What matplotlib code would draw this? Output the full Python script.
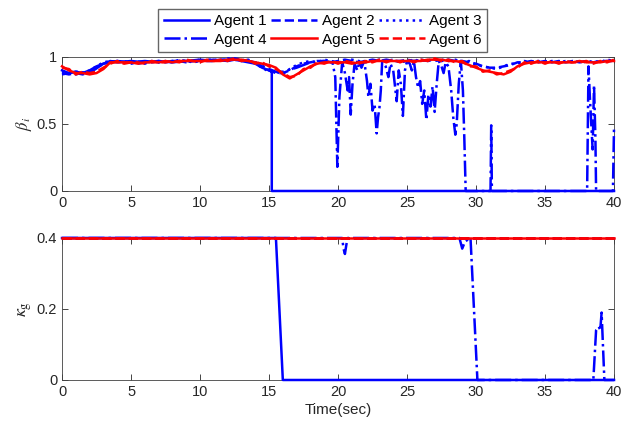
import matplotlib
matplotlib.use('Agg')
import matplotlib.pyplot as plt

plt.rcParams['font.family'] = ['Liberation Sans', 'DejaVu Sans']
plt.rcParams['mathtext.fontset'] = 'stix'

# common time grid for the smooth-ish traces (0:0.5:40)
t_half = [i * 0.5 for i in range(81)]

beta2 = [0.88, 0.87, 0.88, 0.87, 0.89, 0.92, 0.95, 0.96, 0.97, 0.96,
         0.96, 0.95, 0.96, 0.96, 0.97, 0.96, 0.97, 0.97, 0.96, 0.97,
         0.98, 0.97, 0.97, 0.98, 0.98, 0.99, 0.98, 0.97, 0.96, 0.93,
         0.90, 0.88, 0.88, 0.90, 0.93, 0.95, 0.96, 0.97, 0.97, 0.96,
         0.97, 0.98, 0.97, 0.96, 0.97, 0.98, 0.97, 0.98, 0.97, 0.97,
         0.98, 0.97, 0.98, 0.97, 0.98, 0.97, 0.98, 0.97, 0.97, 0.96,
         0.95, 0.93, 0.92, 0.92, 0.93, 0.94, 0.96, 0.96, 0.97, 0.96,
         0.97, 0.96, 0.97, 0.96, 0.97, 0.96, 0.97, 0.96, 0.97, 0.97,
         0.97]
beta3 = [0.89, 0.88, 0.87, 0.88, 0.90, 0.93, 0.96, 0.97, 0.96, 0.97,
         0.95, 0.96, 0.95, 0.97, 0.96, 0.97, 0.96, 0.98, 0.97, 0.96,
         0.97, 0.98, 0.98, 0.97, 0.99, 0.98, 0.97, 0.98, 0.95, 0.92,
         0.89, 0.89, 0.87, 0.91, 0.94, 0.96, 0.97, 0.96, 0.98, 0.97,
         0.96, 0.97, 0.98, 0.97, 0.96, 0.97, 0.98, 0.97, 0.98, 0.96,
         0.97, 0.98, 0.97, 0.98, 0.97, 0.98, 0.97, 0.98, 0.96, 0.97,
         0.94, 0.93, 0.92, 0.91, 0.93, 0.95, 0.95, 0.97, 0.96, 0.97,
         0.96, 0.97, 0.96, 0.97, 0.96, 0.97, 0.96, 0.97, 0.96, 0.98,
         0.97]
beta5 = [0.93, 0.90, 0.88, 0.88, 0.87, 0.88, 0.91, 0.96, 0.96, 0.96,
         0.96, 0.95, 0.96, 0.96, 0.96, 0.97, 0.96, 0.97, 0.97, 0.97,
         0.97, 0.97, 0.97, 0.97, 0.98, 0.98, 0.98, 0.97, 0.96, 0.95,
         0.94, 0.92, 0.87, 0.84, 0.87, 0.90, 0.93, 0.95, 0.96, 0.96,
         0.96, 0.96, 0.95, 0.96, 0.96, 0.97, 0.97, 0.97, 0.97, 0.97,
         0.97, 0.97, 0.97, 0.98, 0.98, 0.98, 0.97, 0.97, 0.96, 0.94,
         0.92, 0.90, 0.89, 0.88, 0.87, 0.89, 0.93, 0.95, 0.96, 0.96,
         0.96, 0.96, 0.96, 0.96, 0.96, 0.97, 0.96, 0.96, 0.96, 0.97,
         0.97]
beta6 = [0.92, 0.91, 0.87, 0.89, 0.88, 0.89, 0.92, 0.95, 0.97, 0.95,
         0.96, 0.96, 0.95, 0.97, 0.96, 0.96, 0.97, 0.96, 0.98, 0.97,
         0.96, 0.98, 0.97, 0.98, 0.97, 0.99, 0.97, 0.98, 0.95, 0.96,
         0.93, 0.91, 0.88, 0.85, 0.86, 0.91, 0.92, 0.96, 0.95, 0.97,
         0.95, 0.97, 0.96, 0.95, 0.97, 0.96, 0.98, 0.96, 0.98, 0.96,
         0.98, 0.96, 0.98, 0.97, 0.99, 0.97, 0.98, 0.96, 0.97, 0.93,
         0.93, 0.89, 0.90, 0.87, 0.88, 0.90, 0.92, 0.96, 0.95, 0.97,
         0.95, 0.97, 0.95, 0.97, 0.96, 0.96, 0.97, 0.95, 0.97, 0.96,
         0.98]

# agent 1: fails at ~15.2 s
t1 = [0, 0.5, 1, 1.5, 2, 2.5, 3, 3.5, 4, 5, 6, 7, 8, 9, 10, 11, 12, 12.5,
      13, 13.5, 14, 14.5, 15, 15.2, 15.2, 40]
beta1 = [0.90, 0.88, 0.89, 0.88, 0.90, 0.93, 0.95, 0.97, 0.96, 0.97, 0.96,
         0.97, 0.96, 0.97, 0.97, 0.98, 0.97, 0.98, 0.97, 0.96, 0.95, 0.92,
         0.90, 0.89, 0.0, 0.0]

# agent 4: heavy drops after 20 s
t4 = [0, 1, 2, 3, 4, 5, 6, 7, 8, 9, 10, 11, 12, 13, 14, 15, 15.5, 16, 17,
      18, 19, 19.6, 19.8, 19.95, 20.1, 20.3, 20.5, 20.7, 20.8, 20.92, 21.05,
      21.2, 21.4, 21.55, 21.7, 21.9, 22.1, 22.2, 22.35, 22.5, 22.65, 22.8,
      22.9, 23.0, 23.1, 23.2, 23.45, 23.65, 23.8, 24.0, 24.25, 24.4, 24.55,
      24.7, 24.85, 25.0, 25.2, 25.35, 25.5, 25.65, 25.8, 25.95, 26.1, 26.25,
      26.4, 26.55, 26.7, 26.85, 27.0, 27.15, 27.3, 27.5, 27.65, 27.8, 28.0,
      28.2, 28.35, 28.5, 28.6, 28.75, 28.9, 29.05, 29.15, 29.25, 31.05,
      31.1, 31.15, 38.05, 38.15, 38.25, 38.35, 38.45, 38.5, 38.55, 38.65,
      38.7, 39.92, 40.0]
beta4 = [0.87, 0.89, 0.88, 0.95, 0.97, 0.96, 0.97, 0.96, 0.97, 0.97, 0.98,
         0.97, 0.98, 0.98, 0.96, 0.91, 0.89, 0.89, 0.92, 0.96, 0.97, 0.96,
         0.85, 0.18, 0.70, 0.96, 0.88, 0.75, 0.85, 0.57, 0.80, 0.95, 0.90,
         0.97, 0.92, 0.97, 0.82, 0.70, 0.80, 0.60, 0.65, 0.43, 0.55, 0.62,
         0.75, 0.97, 0.93, 0.85, 0.95, 0.90, 0.67, 0.90, 0.80, 0.56, 0.90,
         0.97, 0.95, 0.90, 0.97, 0.85, 0.77, 0.82, 0.65, 0.75, 0.53, 0.72,
         0.63, 0.78, 0.59, 0.80, 0.97, 0.93, 0.88, 0.96, 0.93, 0.75, 0.55,
         0.42, 0.50, 0.80, 0.97, 0.75, 0.40, 0.0, 0.0, 0.49, 0.0, 0.0, 0.93,
         0.70, 0.50, 0.31, 0.55, 0.79, 0.40, 0.0, 0.0, 0.48]

# kappa_g
t_k = [0, 40]
kappa_const = [0.4, 0.4]
t_k1 = [0, 15.5, 16.0, 40]
kappa1 = [0.4, 0.4, 0.0, 0.0]
t_k4 = [0, 20.3, 20.4, 20.5, 20.6, 20.7, 28.8, 29.0, 29.2, 29.6, 30.1,
        38.5, 38.7, 38.9, 39.0, 39.1, 39.3, 40]
kappa4 = [0.4, 0.4, 0.37, 0.355, 0.38, 0.4, 0.4, 0.37, 0.39, 0.4, 0.0,
          0.0, 0.14, 0.15, 0.14, 0.19, 0.0, 0.0]

agents = ['Agent 1', 'Agent 2', 'Agent 3', 'Agent 4', 'Agent 5', 'Agent 6']
colors = ['blue', 'blue', 'blue', 'blue', 'red', 'red']
styles = ['-', '--', ':', '-.', '-', '--']

fig = plt.figure(figsize=(6.29, 4.32), dpi=100)
ax1 = fig.add_axes([0.0986, 0.5579, 0.8776, 0.3102])
ax2 = fig.add_axes([0.0986, 0.1204, 0.8776, 0.3287])

top_data = [(t1, beta1), (t_half, beta2), (t_half, beta3), (t4, beta4),
            (t_half, beta5), (t_half, beta6)]
bot_data = [(t_k1, kappa1), (t_k, kappa_const), (t_k, kappa_const),
            (t_k4, kappa4), (t_k, kappa_const), (t_k, kappa_const)]

handles = []
for i in range(6):
    h, = ax1.plot(top_data[i][0], top_data[i][1], color=colors[i],
                  linestyle=styles[i], lw=1.8, label=agents[i], clip_on=False,
                  zorder=3 + i * 0.1)
    handles.append(h)
    ax2.plot(bot_data[i][0], bot_data[i][1], color=colors[i],
             linestyle=styles[i], lw=1.8, clip_on=False, zorder=3 + i * 0.1)

for ax in (ax1, ax2):
    ax.set_xlim(0, 40)
    ax.set_xticks(range(0, 41, 5))
    ax.tick_params(direction='in', top=True, right=True, labelsize=10.5,
                   length=4, width=0.6, color='#262626', labelcolor='#262626')
    for s in ax.spines.values():
        s.set_color('#404040')
        s.set_linewidth(0.6)

ax1.set_ylim(0, 1)
ax1.set_yticks([0, 0.5, 1])
ax1.set_yticklabels(['0', '0.5', '1'])
ax1.set_ylabel(r'$\beta_i$', fontsize=12, labelpad=2, color='#262626')

ax2.set_ylim(0, 0.4)
ax2.set_yticks([0, 0.2, 0.4])
ax2.set_yticklabels(['0', '0.2', '0.4'])
ax2.set_ylabel(r'$\kappa_{\rm g}$', fontsize=13, labelpad=2, color='#262626')
ax2.set_xlabel('Time(sec)', fontsize=11, labelpad=3, color='#262626')

# legend fills row by row like the reference: reorder for column-major fill
order = [0, 3, 1, 4, 2, 5]
fig.legend(handles=[handles[k] for k in order], loc='center',
           bbox_to_anchor=(0.513, 0.930), ncol=3, fontsize=11, frameon=True,
           fancybox=False, edgecolor='#404040', handlelength=3.0,
           columnspacing=0.3, handletextpad=0.3, borderpad=0.35,
           labelspacing=0.3, borderaxespad=0)

fig.savefig('out.png', dpi=100)
